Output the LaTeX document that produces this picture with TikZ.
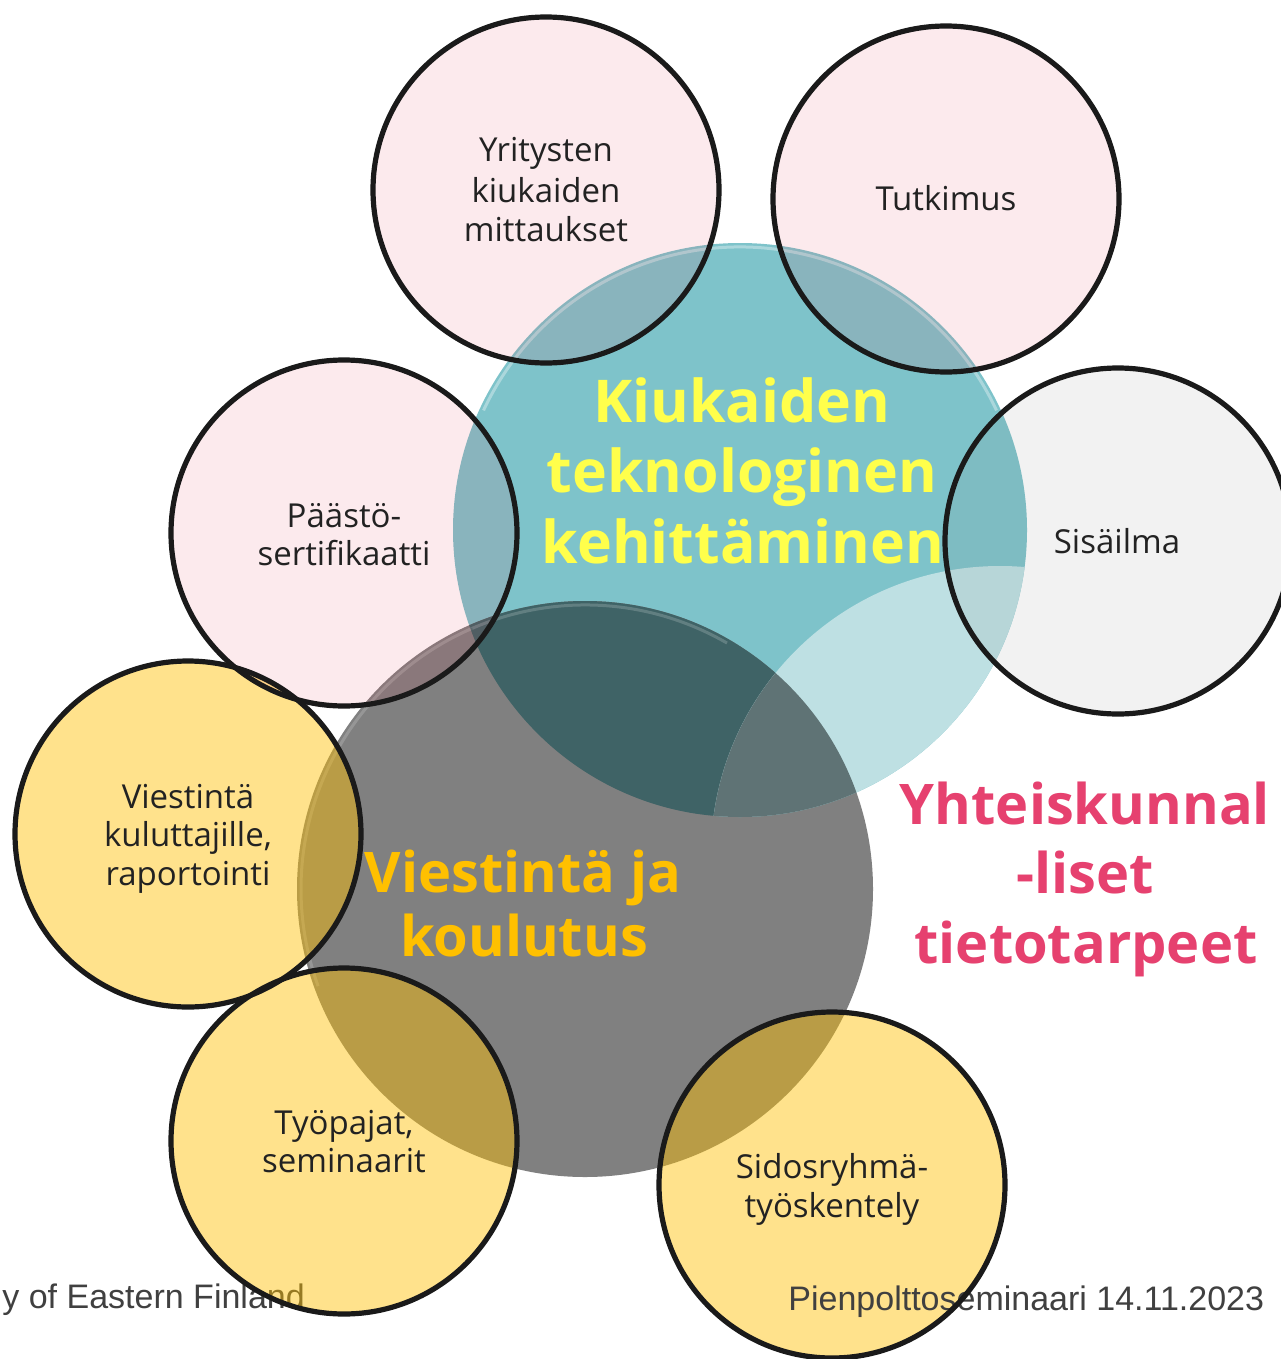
\documentclass[tikz,border=0pt]{standalone}
\usepackage{fontspec}
\setmainfont{Open Sans}
\newfontfamily\footfont{Liberation Sans}
\definecolor{tealc}{RGB}{126,195,202}
\definecolor{grayc}{RGB}{128,128,128}
\definecolor{darkc}{RGB}{63,99,102}
\definecolor{lightc}{RGB}{190,224,227}
\definecolor{midc}{RGB}{95,115,117}
\definecolor{pinkbase}{RGB}{235,55,80}
\definecolor{goldc}{RGB}{255,192,0}
\definecolor{yellc}{RGB}{255,255,75}
\definecolor{rosec}{RGB}{230,65,111}
\definecolor{txtc}{RGB}{34,34,34}
\definecolor{footc}{RGB}{64,64,64}
\definecolor{linec}{RGB}{26,26,26}
\tikzset{
  smalltxt/.style={font=\fontsize{16.5pt}{20pt}\selectfont, text=txtc, anchor=base, inner sep=0pt},
  bigtxt/.style={font=\bfseries\fontsize{29.5pt}{35pt}\selectfont, anchor=base, inner sep=0pt},
  foottxt/.style={font=\footfont\fontsize{17pt}{20pt}\selectfont, text=footc, inner sep=0pt},
  ring/.style={draw=linec, line width=2.6pt},
}
\begin{document}
\begin{tikzpicture}[x=0.5pt,y=-0.5pt]
\useasboundingbox (0,0) rectangle (1280,1359);
\fill[white] (0,0) rectangle (1280,1359);
% footer text (under circles)
\node[foottxt, anchor=base west] (f1) at (2,1308) {y of Eastern Finland};
% big circles
\coordinate (T) at (740,530);
\coordinate (G) at (585,889);
\coordinate (W) at (1000,855);
\fill[tealc] (T) circle[radius=143.5pt];
\fill[grayc] (G) circle[radius=144pt];
\begin{scope}
  \clip (T) circle[radius=143.5pt];
  \fill[darkc] (G) circle[radius=144pt];
\end{scope}
\begin{scope}
  \clip (W) circle[radius=144.5pt];
  \clip (T) circle[radius=143.5pt];
  \fill[lightc] (W) circle[radius=144.5pt];
  \fill[midc] (G) circle[radius=144pt];
\end{scope}
% glossy rims
\draw[white, opacity=0.35, line width=1.5pt] ([shift={(25:141.5pt)}]T) arc[start angle=25, end angle=155, radius=141.5pt];
\draw[white, opacity=0.18, line width=1.5pt] ([shift={(60:142pt)}]G) arc[start angle=60, end angle=200, radius=142pt];
\draw[darkc, opacity=0.6, line width=0.8pt] ([shift={(200:143pt)}]T) arc[start angle=200, end angle=262, radius=143pt];
% small circles: fills
\coordinate (c1) at (546,190);
\coordinate (c2) at (946,199);
\coordinate (c3) at (344,533);
\coordinate (c4) at (1118,541);
\coordinate (c5) at (188,834);
\coordinate (c6) at (344,1141);
\coordinate (c7) at (832,1185);
\fill[goldc, opacity=0.45] (c5) circle[radius=86.5pt];
\fill[goldc, opacity=0.45] (c6) circle[radius=86.5pt];
\fill[goldc, opacity=0.45] (c7) circle[radius=86.5pt];
\fill[pinkbase, opacity=0.1] (c1) circle[radius=86.5pt];
\fill[pinkbase, opacity=0.1] (c2) circle[radius=86.5pt];
\fill[pinkbase, opacity=0.1] (c3) circle[radius=86.5pt];
\fill[grayc, opacity=0.1] (c4) circle[radius=86.5pt];
% right footer text: above fill, below outline
\node[foottxt, anchor=base west] (f2) at (788,1310) {Pienpolttoseminaari 14.11.2023};
% outlines
\foreach \c in {c5,c6,c7,c1,c2,c3,c4}{
  \draw[ring] (\c) circle[radius=86.5pt];
}
% small texts
\node[smalltxt] (t1a) at (546,162) {Yritysten};
\node[smalltxt] (t1b) at (546,202) {kiukaiden};
\node[smalltxt] (t1c) at (546,241) {mittaukset};
\node[smalltxt] (t2) at (946,210) {Tutkimus};
\node[smalltxt] (t3a) at (344,527) {Päästö-};
\node[smalltxt] (t3b) at (344,565) {sertifikaatti};
\node[smalltxt] (t4) at (1117,553) {Sisäilma};
\node[smalltxt] (t5a) at (188,808) {Viestintä};
\node[smalltxt] (t5b) at (188,846) {kuluttajille,};
\node[smalltxt] (t5c) at (188,885) {raportointi};
\node[smalltxt] (t6a) at (344,1134) {Työpajat,};
\node[smalltxt] (t6b) at (344,1172) {seminaarit};
\node[smalltxt] (t7a) at (832,1178) {Sidosryhmä-};
\node[smalltxt] (t7b) at (832,1217) {työskentely};
% big texts
\node[bigtxt, text=yellc] (k1) at (742,422) {Kiukaiden};
\node[bigtxt, text=yellc] (k2) at (742,492) {teknologinen};
\node[bigtxt, text=yellc] (k3) at (743,563) {kehittäminen};
\node[bigtxt, text=goldc, font=\bfseries\fontsize{28pt}{33pt}\selectfont] (v1) at (523,892) {Viestintä ja};
\node[bigtxt, text=goldc, font=\bfseries\fontsize{28pt}{33pt}\selectfont] (v2) at (524,956) {koulutus};
\node[bigtxt, text=rosec, font=\bfseries\fontsize{28pt}{34pt}\selectfont] (y1) at (1085,824) {Yhteiskunnal};
\node[bigtxt, text=rosec, font=\bfseries\fontsize{28pt}{34pt}\selectfont] (y2) at (1085,893) {-liset};
\node[bigtxt, text=rosec, font=\bfseries\fontsize{28pt}{34pt}\selectfont] (y3) at (1086,963) {tietotarpeet};
\end{tikzpicture}
\end{document}
